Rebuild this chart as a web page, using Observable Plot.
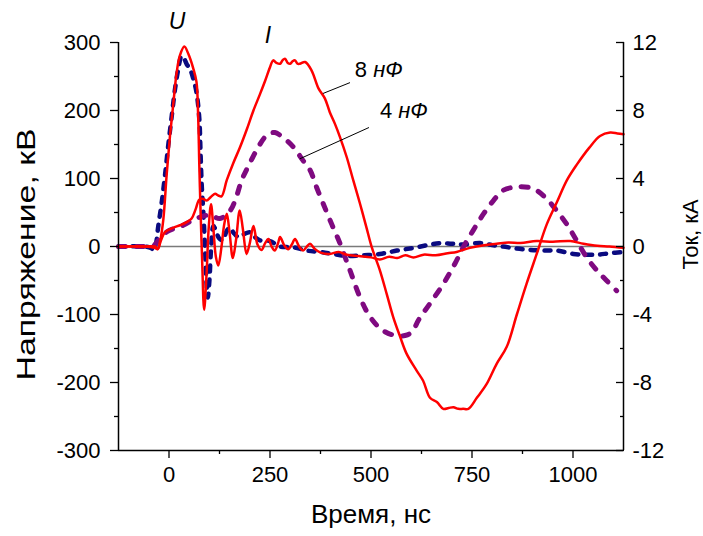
<!DOCTYPE html>
<html><head><meta charset="utf-8">
<script src="https://cdn.jsdelivr.net/npm/d3@7"></script>
<script src="https://cdn.jsdelivr.net/npm/@observablehq/plot@0.6"></script>
<style>
body{margin:0;background:#fff}
svg{font-family:"Liberation Sans",Arial,sans-serif}
</style>
</head><body><div id="chart"></div>
<script>
// ---- data: voltage U (kV) and current I (kA) vs time (ns) ----
const timeU8 = [-125,-60,-35,-28,-22,-14,-6,2.5,11,19,27,38,48,60,68,72,75,78,82,87,93,98,104,110,116,122,130,136,143,150,158,166,175,183,192,200,209,219,229,238,246,254,262,270,275,285,295,304,312,322,332,340,349,360,375,398,420,440,470,500,522,545,565,585,605,630,660,690,712,745,780,811,840,870,910,950,993,1026,1060,1090,1125];
const voltU8 = [0,0,-2,-4,8,40,104,163,212,256,281,294,283,262,242,195,120,55,-20,-93,-40,25,62,25,-15,-28,0,30,48,20,-17,10,53,25,-11,5,30,3,-5,5,11,0,-6,5,14,2,-4,3,11,0,-6,-1,4,-3,-9,-11,-8,-12,-14,-16,-19,-15,-17,-13,-16,-12,-13,-10,-8,-2,2,4,6,5,8,7,8,4,1,0,-2];

const timeU4 = [-125,-60,-45,-38,-32,-27,-18,-10,-2,7,15,23,31,36,44,52,60,68,75,78,81,85,89,93,96,100,104,110,117,124,134,142,151,160,172,185,200,212,225,250,275,308,341,374,407,440,481,522,564,605,640,671,700,728,770,800,827,860,894,930,960,1001,1030,1059,1090,1125];
const voltU4 = [0,0,-2,-5,5,28,65,104,148,193,232,261,280,278,268,261,247,227,188,139,90,50,0,-55,-75,-50,-5,30,22,12,9,22,28,20,14,18,21,14,9,8,0,-1,-6,-8,-11,-14,-13,-11,-6,-2,2,5,4,3,5,2,0,-3,-5,-6,-6,-11,-12,-12,-10,-8];

const timeI8 = [-125,-60,-35,-28,-20,-10,10,27,45,56,66,75,85,93,103,114,122,130,143,159,176,192,209,225,238,250,258,266,275,281,287,294,300,306,312,318,324,337,353,370,386,398,411,423,440,456,473,489,502,522,539,555,572,588,613,629,646,663,679,692,704,716,728,741,762,786,811,836,861,885,910,935,960,985,1009,1040,1067,1092,1110,1125];
const currI8 = [0,0,0,-0.15,0.35,0.85,1.1,1.25,1.45,1.65,2.2,2.75,2.8,2.7,2.9,3.1,3.0,2.95,3.9,4.9,5.85,6.85,8.0,8.95,9.75,10.55,10.95,10.8,10.75,10.95,11.05,10.8,10.75,10.9,10.95,10.75,10.75,10.85,10.35,9.3,8.7,7.9,7.2,6.45,5.25,3.9,2.5,1.1,-0.05,-1.4,-2.8,-4.15,-5.3,-6.3,-7.3,-7.9,-8.9,-9.15,-9.55,-9.5,-9.45,-9.55,-9.55,-9.55,-8.9,-8.1,-6.9,-5.9,-4.0,-2.2,-0.45,1.3,2.6,3.9,4.8,5.8,6.5,6.7,6.65,6.6];

const timeI4 = [-125,-60,-40,-30,-6,35,68,101,126,151,165,180,200,221,238,250,262,275,291,308,332,349,365,382,403,423,440,448,473,498,530,564,590,605,617,646,679,708,728,753,778,803,827,861,902,935,960,985,1009,1034,1059,1083,1108];
const currI4 = [0,0,0,0.25,0.85,1.25,1.65,1.85,1.65,2.1,2.8,3.9,4.9,5.85,6.45,6.65,6.7,6.55,6.25,5.85,5.05,4.5,3.5,2.5,1.3,0.2,-0.9,-1.4,-3.0,-4.15,-4.95,-5.25,-5.2,-4.9,-4.35,-3.35,-2.2,-1.0,-0.05,0.95,1.9,2.7,3.3,3.5,3.4,2.8,2.1,1.3,0.35,-0.65,-1.4,-2.0,-2.6];

// ---- axes ----
const xDomain = [-125, 1125];
const yDomain = [-300, 300];          // kV
const kVperkA = 25;                   // right axis: 300 kV <-> 12 kA
const xTicks = [0, 250, 500, 750, 1000];
const xMinor = [125, 375, 625, 875];
const yTicks = [-300, -200, -100, 0, 100, 200, 300];
const yMinor = [-250, -150, -50, 50, 150, 250];
const iTicks = [-12, -8, -4, 0, 4, 8, 12];
const iMinor = [-10, -6, -2, 2, 6, 10];

// ---- annotations ----
const traceLabels = ["U", "I"];
const traceLabelT = [20, 245];
const traceLabelV = [331, 310];
const capLabels = ["8 нФ", "4 нФ"];
const capT = [460, 522];
const capV = [259, 199];
const leadT1 = [381, 324], leadV1 = [225, 129], leadT2 = [448, 495], leadV2 = [241, 175];

const series = (t, v, k = 1) => t.map((tt, i) => ({t: tt, v: v[i] * k}));
const dU8 = series(timeU8, voltU8);
const dU4 = series(timeU4, voltU4);
const dI8 = series(timeI8, currI8, kVperkA);
const dI4 = series(timeI4, currI4, kVperkA);
const ann = traceLabels.map((s, i) => ({s, t: traceLabelT[i], v: traceLabelV[i]}));
const caps = capLabels.map((s, i) => ({s, t: capT[i], v: capV[i], t1: leadT1[i], v1: leadV1[i], t2: leadT2[i], v2: leadV2[i]}));

const FS = 22;
const fmt = d => String(d);
const chart = Plot.plot({
  width: 703, height: 536,
  marginLeft: 118, marginRight: 80, marginTop: 42, marginBottom: 86,
  style: {background: "#fff", color: "#000", fontFamily: "Liberation Sans, Arial, sans-serif"},
  x: {domain: xDomain},
  y: {domain: yDomain},
  marks: [
    Plot.ruleY([0], {stroke: "#7a7a7a", strokeWidth: 1.5}),
    Plot.line(dU4, {x: "t", y: "v", stroke: "#0a0a80", strokeWidth: 4.5, strokeDasharray: "6,8", strokeLinecap: "round", curve: "catmull-rom"}),
    Plot.line(dI4, {x: "t", y: "v", stroke: "#7f0a80", strokeWidth: 5, strokeDasharray: "7,11", strokeLinecap: "round", curve: "catmull-rom"}),
    Plot.line(dU8, {x: "t", y: "v", stroke: "#ff0000", strokeWidth: 2.5, curve: "catmull-rom"}),
    Plot.line(dI8, {x: "t", y: "v", stroke: "#ff0000", strokeWidth: 2.5, curve: "catmull-rom"}),
    Plot.link(caps, {x1: "t1", y1: "v1", x2: "t2", y2: "v2", stroke: "#000", strokeWidth: 1}),
    Plot.text(caps, {x: "t", y: "v", text: "s", textAnchor: "start", fontSize: 22}),
    Plot.text(ann, {x: "t", y: "v", text: "s", fontSize: 23, fontStyle: "italic"}),
    // frame lines (no top border)
    Plot.ruleX(xDomain, {stroke: "#000", strokeWidth: 1.5}),
    Plot.ruleY([yDomain[0]], {stroke: "#000", strokeWidth: 1.5}),
    // bottom axis
    Plot.axisX({ticks: xTicks, tickFormat: fmt, tickSize: 8, tickPadding: 8, fontSize: FS, label: null, strokeWidth: 1.3}),
    Plot.axisX({ticks: xMinor, tickSize: 4, tickFormat: () => "", label: null, strokeWidth: 1.3}),
    // left axis (kV)
    Plot.axisY({anchor: "left", ticks: yTicks, tickFormat: fmt, tickSize: 8, tickPadding: 10, fontSize: FS, label: null, strokeWidth: 1.3}),
    Plot.axisY({anchor: "left", ticks: yMinor, tickSize: 4, tickFormat: () => "", label: null, strokeWidth: 1.3}),
    // right axis (kA), ticks pointing inward
    Plot.axisY({anchor: "right", ticks: iTicks.map(d => d * kVperkA), tickFormat: d => String(d / kVperkA), tickSize: -8, tickPadding: 17, fontSize: FS, label: null, strokeWidth: 1.3}),
    Plot.axisY({anchor: "right", ticks: iMinor.map(d => d * kVperkA), tickSize: -4, tickFormat: () => "", label: null, strokeWidth: 1.3}),
    // axis titles
    Plot.text(["Напряжение, кВ"], {text: d => d, frameAnchor: "left", textAnchor: "middle", dx: -92, dy: 8, rotate: -90, fontSize: 26}),
    Plot.text(["Ток, кА"], {text: d => d, frameAnchor: "right", textAnchor: "middle", dx: 67, dy: -12, rotate: -90, fontSize: 22}),
    Plot.text(["Время, нс"], {text: d => d, frameAnchor: "bottom", dy: 72, fontSize: 26})
  ]
});
d3.select(chart).selectAll("text").each(function() {
  const s = this.textContent;
  // italicise the unit "нФ" in the capacitance labels
  const m = s.match(/^(\S+ )(нФ)$/);
  if (m) {
    const el = d3.select(this);
    el.text(null);
    el.append("tspan").text(m[1]);
    el.append("tspan").attr("font-style", "italic").text(m[2]);
  }
  // the left title is drawn elongated in the original
  if (s === "Напряжение, кВ") {
    const tr = this.getAttribute("transform") || "";
    this.setAttribute("transform", tr + " scale(1.3,1)");
  }
});
document.getElementById("chart").appendChild(chart);
</script>
</body></html>
